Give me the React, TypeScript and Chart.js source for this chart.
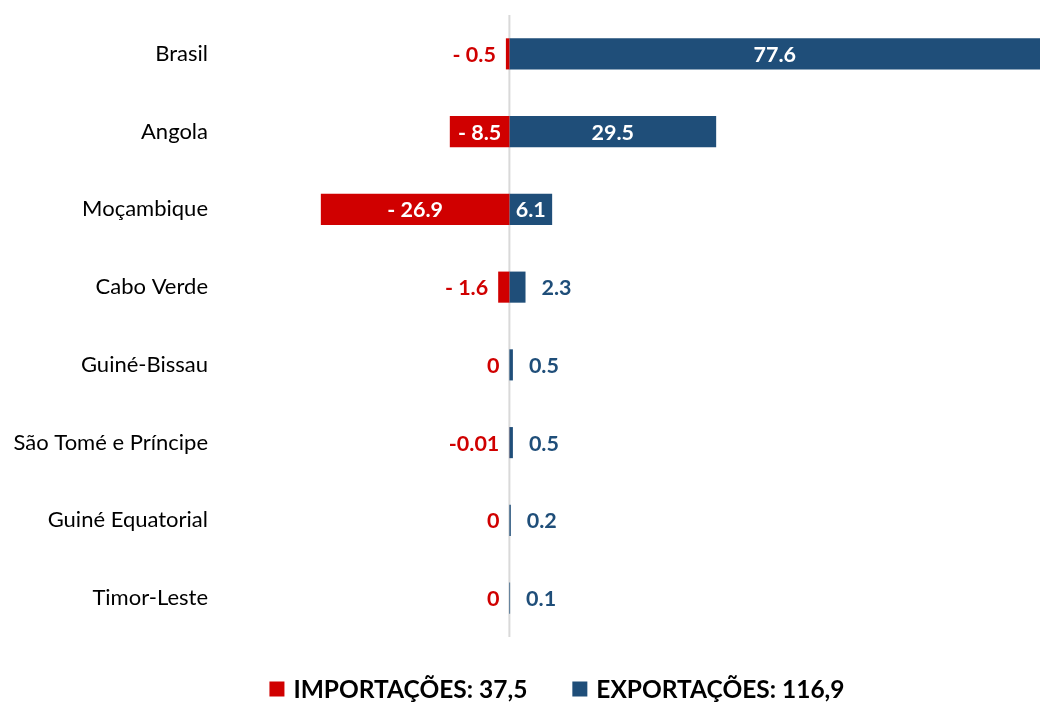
import React, { useEffect, useRef } from "react";
import { Chart, registerables } from "chart.js";

Chart.register(...registerables);

const countries = [
  "Brasil",
  "Angola",
  "Moçambique",
  "Cabo Verde",
  "Guiné-Bissau",
  "São Tomé e Príncipe",
  "Guiné Equatorial",
  "Timor-Leste",
];
const importValues = [-0.5, -8.5, -26.9, -1.6, 0, -0.01, 0, 0];
const exportValues = [77.6, 29.5, 6.1, 2.3, 0.5, 0.5, 0.2, 0.1];
const importLabels = ["- 0.5", "- 8.5", "- 26.9", "- 1.6", "0", "-0.01", "0", "0"];
const exportLabels = ["77.6", "29.5", "6.1", "2.3", "0.5", "0.5", "0.2", "0.1"];
const legendTexts = ["IMPORTAÇÕES: 37,5", "EXPORTAÇÕES: 116,9"];
const xMin = -42;
const xMax = 75.7;

const RED = "#D00000";
const BLUE = "#1F4E79";
const FONT = "Lato, 'Open Sans', sans-serif";

const labelPlugin = {
  id: "barLabels",
  beforeDatasetsDraw(chart: any) {
    const { ctx, chartArea, scales } = chart;
    const x0 = scales.x.getPixelForValue(0);
    ctx.save();
    ctx.strokeStyle = "#D9D9D9";
    ctx.lineWidth = 2;
    ctx.beginPath();
    ctx.moveTo(x0, chartArea.top);
    ctx.lineTo(x0, chartArea.bottom);
    ctx.stroke();
    ctx.restore();
  },
  afterDatasetsDraw(chart: any) {
    const { ctx, chartArea } = chart;
    ctx.save();
    ctx.font = `bold 21.5px ${FONT}`;
    ctx.textBaseline = "middle";
    chart.data.datasets.forEach((ds: any, di: number) => {
      const meta = chart.getDatasetMeta(di);
      const texts = di === 0 ? importLabels : exportLabels;
      const color = di === 0 ? RED : BLUE;
      meta.data.forEach((bar: any, i: number) => {
        const text = texts[i];
        const a = Math.max(chartArea.left, Math.min(bar.x, bar.base));
        const b = Math.min(chartArea.right, Math.max(bar.x, bar.base));
        const w = b - a;
        const tw = ctx.measureText(text).width;
        if (w >= tw + 10) {
          ctx.fillStyle = "#FFFFFF";
          ctx.textAlign = "center";
          ctx.fillText(text, (a + b) / 2, bar.y + 1);
        } else if (di === 0) {
          ctx.fillStyle = color;
          ctx.textAlign = "right";
          ctx.fillText(text, a - 10, bar.y + 1);
        } else {
          ctx.fillStyle = color;
          ctx.textAlign = "left";
          ctx.fillText(text, b + 16, bar.y + 1);
        }
      });
    });
    ctx.restore();
  },
  afterDraw(chart: any) {
    const { ctx } = chart;
    ctx.save();
    ctx.font = `bold 24.5px ${FONT}`;
    ctx.textBaseline = "middle";
    ctx.textAlign = "left";
    const box = 15;
    const gapBoxText = 9;
    const gapItems = 45;
    const colors = [RED, BLUE];
    const widths = legendTexts.map((t) => ctx.measureText(t).width);
    const total =
      widths.reduce((s, w) => s + w + box + gapBoxText, 0) + gapItems * (legendTexts.length - 1);
    let x = 557 - total / 2;
    const cy = 689;
    legendTexts.forEach((t, i) => {
      ctx.fillStyle = colors[i];
      ctx.fillRect(x, cy - box / 2, box, box);
      x += box + gapBoxText;
      ctx.fillStyle = "#000000";
      ctx.fillText(t, x, cy + 1);
      x += widths[i] + gapItems;
    });
    ctx.restore();
  },
};

export default function App() {
  const canvasRef = useRef<HTMLCanvasElement | null>(null);

  useEffect(() => {
    let chart: Chart | null = null;
    let cancelled = false;
    const make = () => {
      if (cancelled || !canvasRef.current) return;
      chart = new Chart(canvasRef.current, {
        type: "bar",
        data: {
          labels: countries,
          datasets: [
            {
              label: legendTexts[0],
              data: importValues,
              backgroundColor: RED,
              borderWidth: 0,
              barPercentage: 0.4,
              categoryPercentage: 1,
            },
            {
              label: legendTexts[1],
              data: exportValues,
              backgroundColor: BLUE,
              borderWidth: 0,
              barPercentage: 0.4,
              categoryPercentage: 1,
            },
          ],
        },
        options: {
          indexAxis: "y",
          responsive: false,
          animation: false,
          devicePixelRatio: 1,
          layout: { padding: { top: 15, bottom: 65, left: 0, right: 0 } },
          plugins: {
            legend: { display: false },
            tooltip: { enabled: false },
          },
          scales: {
            x: {
              stacked: true,
              min: xMin,
              max: xMax,
              display: false,
            },
            y: {
              stacked: true,
              grid: { display: false, drawTicks: false },
              border: { display: false },
              ticks: {
                color: "#000000",
                font: { family: FONT, size: 22 },
                padding: 7,
              },
              afterFit(scale: any) {
                scale.width = 215;
                scale.paddingTop = 0;
                scale.paddingBottom = 0;
              },
            },
          },
        },
        plugins: [labelPlugin],
      } as any);
    };
    const fonts: any = (document as any).fonts;
    if (fonts && fonts.load) {
      Promise.all([
        fonts.load(`22px Lato`),
        fonts.load(`bold 22px Lato`),
      ])
        .catch(() => null)
        .then(make);
    } else {
      make();
    }
    return () => {
      cancelled = true;
      if (chart) chart.destroy();
    };
  }, []);

  return (
    <div style={{ position: "absolute", left: 0, top: 0, width: 1040, height: 702, background: "#fff" }}>
      <canvas ref={canvasRef} width={1040} height={702} style={{ display: "block" }} />
    </div>
  );
}
